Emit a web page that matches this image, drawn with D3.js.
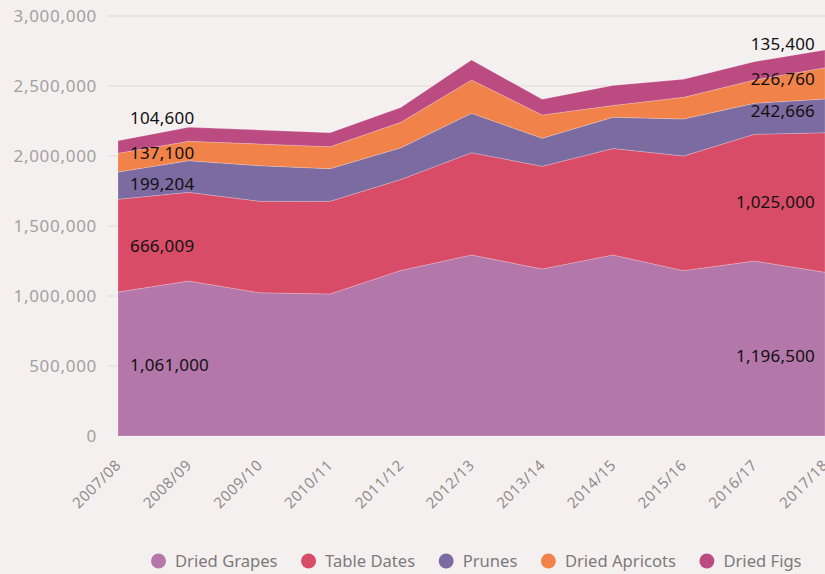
<!DOCTYPE html>
<html lang="en">
<head>
<meta charset="UTF-8">
<title>Dried fruit production</title>
<script src="https://d3js.org/d3.v7.min.js"></script>
<style>
  html, body { margin: 0; padding: 0; background: #f5f0f0; }
  svg { display: block; font-family: "Noto Sans", sans-serif; }
  .grid line { stroke: #dedad9; stroke-width: 1; }
  .ytick { fill: #a3a0a0; font-size: 17px; letter-spacing: 0.7px; }
  .xtick { fill: #8f8c8c; font-size: 15px; letter-spacing: 0.6px; }
  .val { fill: #111; font-size: 17px; letter-spacing: 0.2px; }
  .legend text { fill: #7d7a7a; font-size: 16.6px; }
</style>
</head>
<body>
<div id="chart"></div>
<script>
// seasons on the x axis
const seasons = ["2007/08", "2008/09", "2009/10", "2010/11", "2011/12", "2012/13",
                 "2013/14", "2014/15", "2015/16", "2016/17", "2017/18"];

// values (tonnes)
const driedGrapes   = [1028600, 1107000, 1023600, 1014300, 1182100, 1292900, 1192900, 1292900, 1180700, 1250000, 1169300];
const tableDates    = [662100, 633600, 652900, 662100, 650000, 730700, 733600, 760700, 819300, 905000, 997100];
const prunes        = [195000, 225700, 254300, 232900, 226400, 281400, 200000, 222900, 264300, 221400, 240700];
const driedApricots = [133600, 138600, 155000, 157100, 182100, 237900, 166400, 84300, 155000, 166400, 223600];
const driedFigs     = [90000, 100000, 100000, 100000, 105700, 142900, 112100, 142900, 128600, 130700, 126400];

const seriesNames = ["Dried Grapes", "Table Dates", "Prunes", "Dried Apricots", "Dried Figs"];
const seriesColors = ["#b477a9", "#d94c68", "#7b6ba0", "#f0824a", "#bb4b81"];

// labels printed at both ends
const firstLabels = ["1,061,000", "666,009", "199,204", "137,100", "104,600"];
const lastLabels  = ["1,196,500", "1,025,000", "242,666", "226,760", "135,400"];

const yTicks = [0, 500000, 1000000, 1500000, 2000000, 2500000, 3000000];

const width = 825, height = 574;

const svg = d3.select("#chart").append("svg")
    .attr("width", width)
    .attr("height", height);

const x = d3.scalePoint().domain(seasons).range([118, 825]);
const y = d3.scaleLinear().domain([0, 3000000]).range([436, 16]);

// table for the stack
const keys = ["grapes", "dates", "prunes", "apricots", "figs"];
const table = seasons.map((s, i) => ({
    season: s,
    grapes: driedGrapes[i],
    dates: tableDates[i],
    prunes: prunes[i],
    apricots: driedApricots[i],
    figs: driedFigs[i]
}));
const stacked = d3.stack().keys(keys)(table);

// grid lines
svg.append("g").attr("class", "grid")
  .selectAll("line").data(yTicks.slice(1)).join("line")
    .attr("x1", 108).attr("x2", width)
    .attr("y1", d => y(d)).attr("y2", d => y(d));

// y labels
svg.append("g").selectAll("text").data(yTicks).join("text")
    .attr("class", "ytick")
    .attr("x", 97)
    .attr("y", d => y(d))
    .attr("dy", "0.36em")
    .attr("text-anchor", "end")
    .text(d => d3.format(",")(d));

// areas
const area = d3.area()
    .x((d, i) => x(seasons[i]))
    .y0(d => y(d[0]))
    .y1(d => y(d[1]));

svg.append("g").selectAll("path").data(stacked).join("path")
    .attr("d", area)
    .attr("fill", (d, i) => seriesColors[i])
    .attr("stroke", "rgba(255,255,255,0.35)")
    .attr("stroke-width", 0.6);

// x labels
svg.append("g").selectAll("text").data(seasons).join("text")
    .attr("class", "xtick")
    .attr("text-anchor", "end")
    .attr("transform", d => `translate(${x(d) + 4},${466}) rotate(-45)`)
    .text(d => d);

// end labels, centred in each band with small nudges
const firstNudge = [1, 0, -2, -10, -29];
const lastNudge  = [2, -1, -5, -4, -15];
const n = seasons.length - 1;

svg.append("g").selectAll("text").data(stacked).join("text")
    .attr("class", "val")
    .attr("x", 130)
    .attr("y", (d, i) => y((d[0][0] + d[0][1]) / 2) + firstNudge[i])
    .attr("dy", "0.36em")
    .text((d, i) => firstLabels[i]);

svg.append("g").selectAll("text").data(stacked).join("text")
    .attr("class", "val")
    .attr("x", 815)
    .attr("text-anchor", "end")
    .attr("y", (d, i) => y((d[n][0] + d[n][1]) / 2) + lastNudge[i])
    .attr("dy", "0.36em")
    .text((d, i) => lastLabels[i]);

// legend
const legend = svg.append("g").attr("class", "legend");
let lx = 151;
seriesNames.forEach((name, i) => {
    const g = legend.append("g").attr("transform", `translate(${lx},561)`);
    g.append("circle").attr("cx", 7.5).attr("cy", 0).attr("r", 7.5).attr("fill", seriesColors[i]);
    const t = g.append("text").attr("x", 24).attr("dy", "0.36em").text(name);
    lx += 24 + t.node().getComputedTextLength() + 23.5;
});
</script>
</body>
</html>
